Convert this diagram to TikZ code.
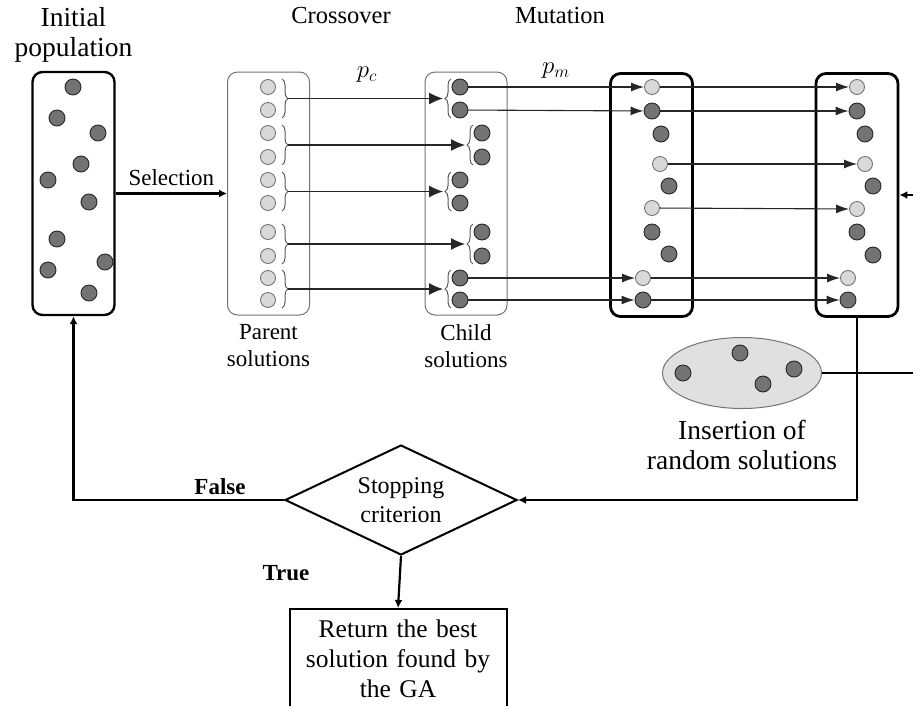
\documentclass[tikz,border=0pt]{standalone}
\usepackage{fontspec}
\setmainfont{Liberation Serif}
\usetikzlibrary{positioning,shapes.geometric,arrows.meta,decorations.pathreplacing}

\begin{document}
\begin{tikzpicture}[x=1pt,y=-1pt,
    dark/.style={circle,draw=black!85,line width=0.9pt,fill=black!55,inner sep=0pt,minimum size=16pt},
    light/.style={circle,draw=black!55,line width=0.9pt,fill=black!15,inner sep=0pt,minimum size=15pt},
    popbox/.style={draw,line width=2.4pt,rounded corners=10pt,minimum width=82pt,minimum height=243pt,inner sep=0pt},
    selbox/.style={draw=black!55,line width=1pt,rounded corners=10pt,minimum width=82pt,minimum height=243pt,inner sep=0pt},
    link/.style={line width=1.1pt,black!85,-{Latex[length=13pt,width=9pt]}},
    xlink/.style={line width=1.1pt,black!85,-{Latex[length=14pt,width=12pt]}},
    flow/.style={line width=2.2pt,-{Latex[length=8pt,width=8pt]}},
    brc/.style={black!65,line width=1pt,decorate,decoration={brace,amplitude=6pt}},
    lbl/.style={font=\fontsize{23}{27}\selectfont,inner sep=0pt,align=center},
    big/.style={font=\fontsize{27.5}{30}\selectfont,inner sep=0pt,align=center},
    boollbl/.style={font=\fontsize{23}{27}\bfseries\selectfont,inner sep=0pt}]
  \useasboundingbox (0,0) rectangle (913,705);
  \clip (0,0) rectangle (913,705);

  \node[popbox] (init) at (73.5,193.5) {};
  \node[selbox] (pbox) at (268.5,193.5) {};
  \node[selbox] (cbox) at (466,193.5) {};
  \node[popbox,line width=2.8pt] (mbox) at (651.5,195) {};
  \node[popbox,line width=2.8pt] (rbox) at (857,195) {};

  \node[big,above=8pt of init] (initlbl) {Initial\\population};
  \node[lbl,font=\fontsize{24.5}{27}\selectfont] (xolbl) at (341,16) {Crossover};
  \node[lbl] (pclbl) at (367,75) {$p_c$};
  \node[lbl,font=\fontsize{24.5}{27}\selectfont] (mutlbl) at (560,16) {Mutation};
  \node[lbl] (pmlbl) at (556,71) {$p_m$};
  \node[lbl,below=9pt of pbox] (parlbl) {Parent\\solutions};
  \node[lbl,below=9pt of cbox] (chlbl) {Child\\solutions};

  \node[dark] (i1) at (73,87) {};
  \node[dark] (i2) at (57,118) {};
  \node[dark] (i3) at (98,133) {};
  \node[dark] (i4) at (81,164) {};
  \node[dark] (i5) at (48,180) {};
  \node[dark] (i6) at (89,202) {};
  \node[dark] (i7) at (57,239) {};
  \node[dark] (i8) at (48,270) {};
  \node[dark] (i9) at (105,262) {};
  \node[dark] (i10) at (89,293) {};

  \node[light] (p1) at (268,87) {};
  \node[light] (p2) at (268,110) {};
  \node[light] (p3) at (268,133) {};
  \node[light] (p4) at (268,157) {};
  \node[light] (p5) at (268,180) {};
  \node[light] (p6) at (268,203) {};
  \node[light] (p7) at (268,232) {};
  \node[light] (p8) at (268,256) {};
  \node[light] (p9) at (268,278) {};
  \node[light] (p10) at (268,300) {};

  \node[dark] (c1) at (460,87) {};
  \node[dark] (c2) at (460,110) {};
  \node[dark] (c3) at (482,133) {};
  \node[dark] (c4) at (482,157) {};
  \node[dark] (c5) at (460,180) {};
  \node[dark] (c6) at (460,203) {};
  \node[dark] (c7) at (482,232) {};
  \node[dark] (c8) at (482,256) {};
  \node[dark] (c9) at (460,278) {};
  \node[dark] (c10) at (460,300) {};

  \node[light] (m1) at (652,87) {};
  \node[dark] (m2) at (652,111) {};
  \node[dark] (m3) at (661,134) {};
  \node[light] (m4) at (660,164) {};
  \node[dark] (m5) at (669,186) {};
  \node[light] (m6) at (652,208) {};
  \node[dark] (m7) at (652,232) {};
  \node[dark] (m8) at (669,254) {};
  \node[light] (m9) at (643,278) {};
  \node[dark] (m10) at (643,300) {};

  \node[light] (r1) at (857,87) {};
  \node[dark] (r2) at (857,111) {};
  \node[dark] (r3) at (865,134) {};
  \node[light] (r4) at (865,164) {};
  \node[dark] (r5) at (873,186) {};
  \node[light] (r6) at (857,209) {};
  \node[dark] (r7) at (857,232) {};
  \node[dark] (r8) at (873,255) {};
  \node[light] (r9) at (848,278) {};
  \node[dark] (r10) at (848,300) {};

  \draw[brc] (282,79) -- (282,118);
  \draw[brc] (282,125) -- (282,165);
  \draw[brc] (282,172) -- (282,211);
  \draw[brc] (282,224) -- (282,264);
  \draw[brc] (282,270) -- (282,308);
  \draw[brc] (451,118) -- (451,79);
  \draw[brc] (473,165) -- (473,125);
  \draw[brc] (451,211) -- (451,172);
  \draw[brc] (473,264) -- (473,224);
  \draw[brc] (451,308) -- (451,270);

  \coordinate (pb1) at (288,98.5);
  \coordinate (pb2) at (288,145);
  \coordinate (pb3) at (288,191.5);
  \coordinate (pb4) at (288,244);
  \coordinate (pb5) at (288,289);
  \coordinate (cb1) at (443,98.5);
  \coordinate (cb2) at (465,145);
  \coordinate (cb3) at (443,191.5);
  \coordinate (cb4) at (465,244);
  \coordinate (cb5) at (443,289);

  \draw[xlink] (pb1) -- (cb1);
  \draw[xlink] (pb2) -- (cb2);
  \draw[xlink] (pb3) -- (cb3);
  \draw[xlink] (pb4) -- (cb4);
  \draw[xlink] (pb5) -- (cb5);

  \draw[link] (c1) -- (m1);
  \draw[link] (c2) -- (m2);
  \draw[link] (c9) -- (m9);
  \draw[link] (c10) -- (m10);
  \draw[link] (m1) -- (r1);
  \draw[link] (m2) -- (r2);
  \draw[link] (m4) -- (r4);
  \draw[link] (m6) -- (r6);
  \draw[link] (m9) -- (r9);
  \draw[link] (m10) -- (r10);

  \draw[flow] (init.east) -- (pbox.west)
    node[midway,above=7pt,lbl] (sellbl) {Selection};

  \node[ellipse,draw=black!55,line width=1pt,fill=black!12,minimum width=159pt,minimum height=71pt] (pool) at (742,373) {};
  \node[dark] (e1) at (683,373) {};
  \node[dark] (e2) at (740,353) {};
  \node[dark] (e3) at (763,384) {};
  \node[dark] (e4) at (794,369) {};
  \node[big,below=11pt of pool] (poollbl) {Insertion of\\random solutions};

  \node[diamond,draw,line width=2pt,aspect=2.1,minimum width=232pt,minimum height=110pt,inner sep=0pt,
    lbl,font=\fontsize{24}{29}\selectfont] (stop) at (401,500) {Stopping\\criterion};
  \node[draw,line width=2pt,anchor=north,lbl,font=\fontsize{25.5}{30}\selectfont,
    text width=210pt,minimum width=217pt,inner ysep=11pt] (ret) at (398,608)
    {Return the best\\solution found by\\the GA};

  \coordinate (edge) at (930,373);
  \draw[flow] (pool.east) -- (edge) |- (rbox.east);
  \draw[flow] (rbox.south) |- (stop.east);
  \draw[flow] (stop.west) -| (init.south);
  \draw[flow] (stop.south) -- (ret.north);

  \node[boollbl] (falselbl) at (220,487) {False};
  \node[boollbl] (truelbl) at (286,573) {True};
\end{tikzpicture}
\end{document}
